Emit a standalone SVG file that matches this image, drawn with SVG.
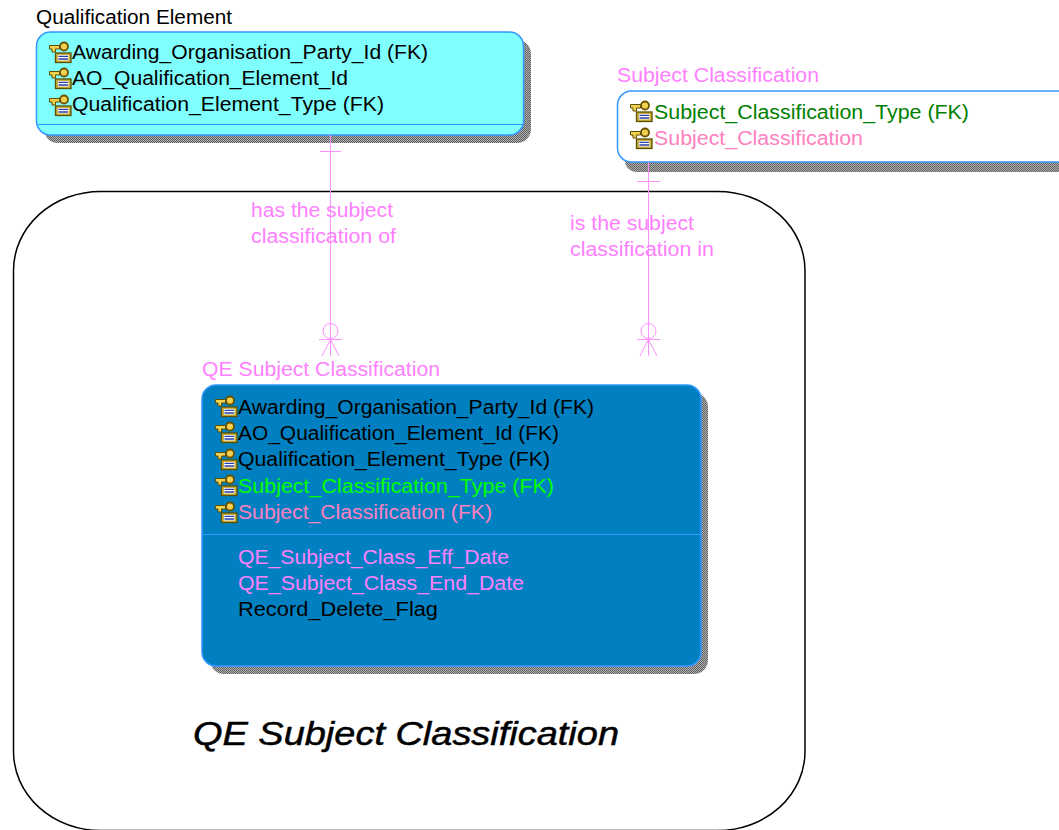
<svg xmlns="http://www.w3.org/2000/svg" width="1059" height="830" viewBox="0 0 1059 830">
<style>
text{font-family:"Liberation Sans",Arial,sans-serif;font-size:20px;fill:#000}
.p{fill:#ff80ff}.g{fill:#008000}.lg{fill:#00ff00}.r{fill:#ff80c0}
.line{stroke:#ff90ff;stroke-width:1;fill:none}
.box{stroke:#3399ff;stroke-width:1.5}
.div{stroke:#3399ff;stroke-width:1}
</style>
<defs>
<pattern id="chk" width="2" height="2" patternUnits="userSpaceOnUse"><rect width="2" height="2" fill="#b0b0b0"/><rect width="1" height="1" fill="#606060"/><rect x="1" y="1" width="1" height="1" fill="#606060"/></pattern>
<symbol id="key" width="23" height="24" viewBox="0 0 23 24">
<rect x="6.500" y="13" width="15.500" height="9.500" fill="#c8b040" stroke="#5c4f00" stroke-width="1.300"/>
<rect x="9" y="15" width="10.500" height="5.500" fill="#fff"/>
<path d="M9.500 16.300h9.500M9.500 19h9.500" stroke="#2a3fa8" stroke-width="1.300"/>
<path d="M0.500 5.500h10v3.500H6.500v3H3V9H0.500z" fill="#f2d050" stroke="#5c4f00" stroke-width="1"/>
<circle cx="15" cy="6.500" r="4" fill="#f2d050" stroke="#6b5200" stroke-width="1.800"/>
</symbol>
</defs>
<rect id="subject-area-frame" x="13.500" y="191.500" width="791.500" height="639" rx="87" ry="79" fill="#fff" stroke="#000" stroke-width="1.500"/>
<g id="qualification-element">
<text x="36" y="24" textLength="196" lengthAdjust="spacingAndGlyphs">Qualification Element</text>
<rect x="44" y="40" width="487" height="103" rx="14" fill="url(#chk)"/>
<rect class="box" x="36.500" y="32" width="487" height="103" rx="14" fill="#80ffff"/>
<line class="div" x1="37" y1="124.500" x2="523" y2="124.500"/>
<use href="#key" x="49" y="40"/><use href="#key" x="49" y="66"/><use href="#key" x="49" y="93"/>
<text x="72" y="59" textLength="356" lengthAdjust="spacingAndGlyphs">Awarding_Organisation_Party_Id (FK)</text>
<text x="72" y="85" textLength="276" lengthAdjust="spacingAndGlyphs">AO_Qualification_Element_Id</text>
<text x="72" y="111" textLength="312" lengthAdjust="spacingAndGlyphs">Qualification_Element_Type (FK)</text>
</g>
<g id="subject-classification">
<text class="p" x="617" y="82" textLength="202" lengthAdjust="spacingAndGlyphs">Subject Classification</text>
<rect x="625" y="150" width="450" height="22" rx="12" fill="url(#chk)"/>
<rect class="box" x="617.500" y="91" width="460" height="71" rx="14" fill="#fff"/>
<use href="#key" x="630" y="99"/><use href="#key" x="630" y="126"/>
<text class="g" x="654" y="119" textLength="315" lengthAdjust="spacingAndGlyphs">Subject_Classification_Type (FK)</text>
<text class="r" x="654" y="145" textLength="209" lengthAdjust="spacingAndGlyphs">Subject_Classification</text>
</g>
<g id="qe-subject-classification">
<text class="p" x="202" y="376" textLength="238" lengthAdjust="spacingAndGlyphs">QE Subject Classification</text>
<rect x="210" y="393" width="498" height="281" rx="14" fill="url(#chk)"/>
<rect class="box" x="202" y="385" width="499" height="281" rx="14" fill="#0080c0"/>
<line class="div" x1="203" y1="534.500" x2="701" y2="534.500"/>
<use href="#key" x="215" y="394"/><use href="#key" x="215" y="420"/><use href="#key" x="215" y="447"/><use href="#key" x="215" y="473"/><use href="#key" x="215" y="500"/>
<text x="238" y="414" textLength="356" lengthAdjust="spacingAndGlyphs">Awarding_Organisation_Party_Id (FK)</text>
<text x="238" y="440" textLength="321" lengthAdjust="spacingAndGlyphs">AO_Qualification_Element_Id (FK)</text>
<text x="238" y="466" textLength="312" lengthAdjust="spacingAndGlyphs">Qualification_Element_Type (FK)</text>
<text class="lg" x="238" y="493" textLength="316" lengthAdjust="spacingAndGlyphs">Subject_Classification_Type (FK)</text>
<text class="r" x="238" y="519" textLength="254" lengthAdjust="spacingAndGlyphs">Subject_Classification (FK)</text>
<text class="p" x="238" y="564" textLength="271" lengthAdjust="spacingAndGlyphs">QE_Subject_Class_Eff_Date</text>
<text class="p" x="238" y="590" textLength="286" lengthAdjust="spacingAndGlyphs">QE_Subject_Class_End_Date</text>
<text x="238" y="616" textLength="200" lengthAdjust="spacingAndGlyphs">Record_Delete_Flag</text>
</g>
<g id="connectors">
<path class="line" d="M330.500 135V356M320 151.500H341M319 339.500H342M330.500 339.500L322 356M330.500 339.500L339 356"/>
<circle class="line" cx="330.500" cy="331" r="7.500"/>
<path class="line" d="M648.500 162V356M637 181.500H660M637 339.500H660M648.500 339.500L640 356M648.500 339.500L657 356"/>
<circle class="line" cx="648.500" cy="331" r="7.500"/>
</g>
<g id="labels">
<text class="p" x="251" y="217" textLength="142" lengthAdjust="spacingAndGlyphs">has the subject</text>
<text class="p" x="251" y="243" textLength="145" lengthAdjust="spacingAndGlyphs">classification of</text>
<text class="p" x="570" y="230" textLength="124" lengthAdjust="spacingAndGlyphs">is the subject</text>
<text class="p" x="570" y="256" textLength="144" lengthAdjust="spacingAndGlyphs">classification in</text>
<text x="193" y="745" style="font-size:34px;font-style:italic;stroke:#000;stroke-width:.5" textLength="426" lengthAdjust="spacingAndGlyphs">QE Subject Classification</text>
</g>
</svg>
